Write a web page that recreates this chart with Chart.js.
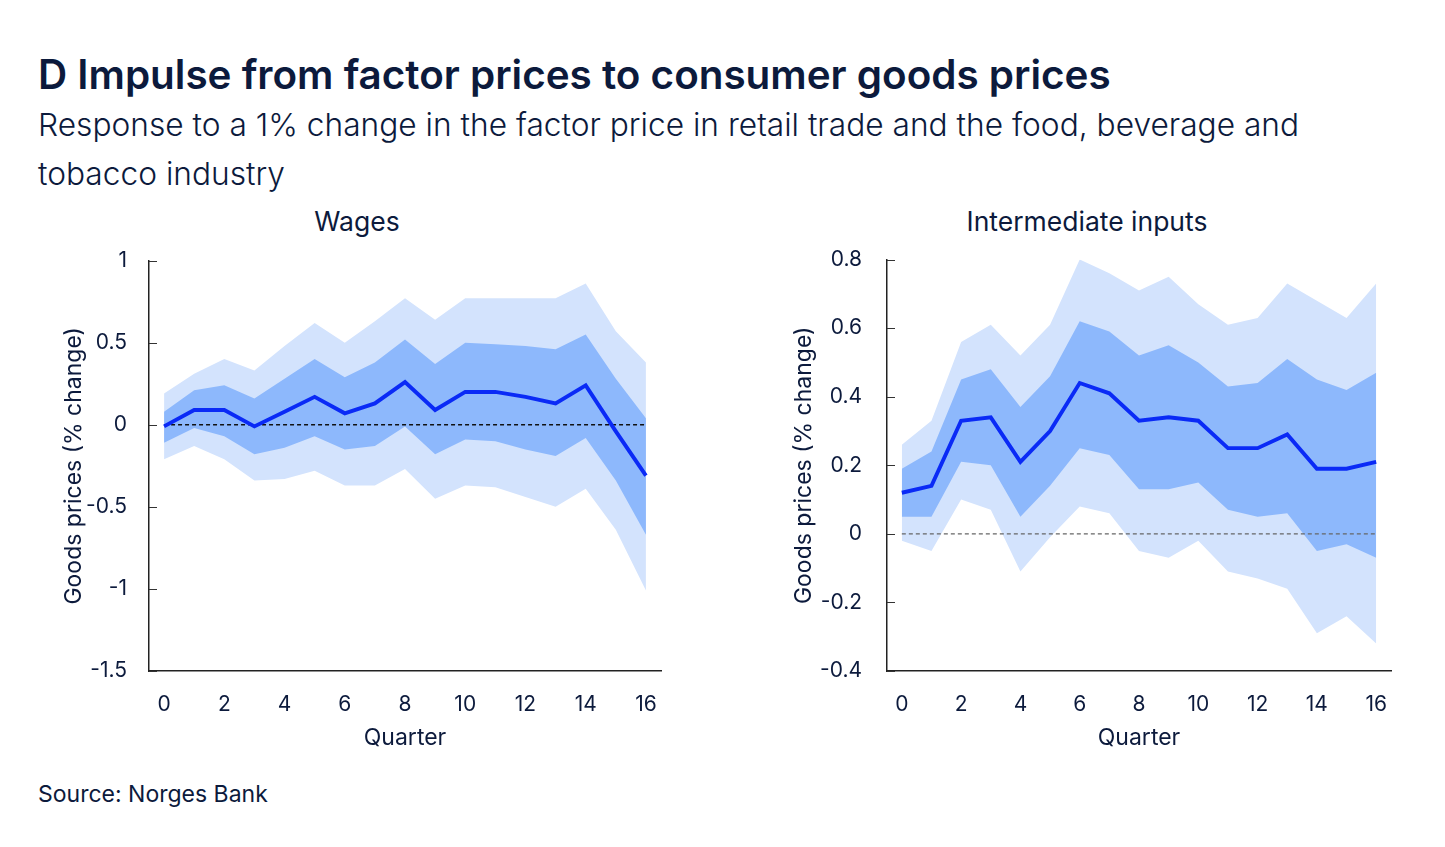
<!DOCTYPE html>
<html>
<head>
<meta charset="utf-8">
<script src="https://cdn.jsdelivr.net/npm/chart.js@4"></script>
<style>
  html, body { margin:0; padding:0; background:#ffffff; }
  body { width:1445px; height:847px; position:relative; overflow:hidden; font-family: Inter, "Noto Sans", sans-serif; color:#0c1a3c; }
  .title { position:absolute; left:38px; top:52px; font-size:40.4px; line-height:46px; font-weight:600; white-space:nowrap; }
  .subtitle { position:absolute; left:38px; top:100px; width:1275px; font-size:31.7px; line-height:49px; font-weight:300; }
  .panel { position:absolute; top:205px; font-size:26.5px; line-height:32px; transform:translateX(-50%); white-space:nowrap; }
  .source { position:absolute; left:38px; top:780px; font-size:23px; line-height:28px; }
  canvas { position:absolute; }
</style>
</head>
<body>
<div class="title">D Impulse from factor prices to consumer goods prices</div>
<div class="subtitle">Response to a 1% change in the factor price in retail trade and the food, beverage and tobacco industry</div>
<div class="panel" style="left:357px;">Wages</div>
<div class="panel" style="left:1087px;">Intermediate inputs</div>
<div class="source">Source: Norges Bank</div>
<div style="position:absolute;left:40px;top:226px;width:640px;height:544px;"><canvas id="c1" width="640" height="544"></canvas></div>
<div style="position:absolute;left:770px;top:222px;width:640px;height:548px;"><canvas id="c2" width="640" height="548"></canvas></div>
<script>
const quarters = [0,1,2,3,4,5,6,7,8,9,10,11,12,13,14,15,16];
const xTicks = [0,2,4,6,8,10,12,14,16];

// Wages panel
const wMedian   = [-0.01, 0.09, 0.09, -0.01, 0.08, 0.17, 0.07, 0.13, 0.26, 0.09, 0.20, 0.20, 0.17, 0.13, 0.24, -0.04, -0.31];
const wInnerUp  = [0.08, 0.21, 0.24, 0.16, 0.28, 0.40, 0.29, 0.38, 0.52, 0.37, 0.50, 0.49, 0.48, 0.46, 0.55, 0.28, 0.04];
const wInnerLow = [-0.11, -0.02, -0.07, -0.18, -0.14, -0.07, -0.15, -0.13, -0.01, -0.18, -0.09, -0.10, -0.15, -0.19, -0.08, -0.34, -0.67];
const wOuterUp  = [0.19, 0.31, 0.40, 0.33, 0.48, 0.62, 0.50, 0.63, 0.77, 0.64, 0.77, 0.77, 0.77, 0.77, 0.86, 0.57, 0.38];
const wOuterLow = [-0.21, -0.13, -0.21, -0.34, -0.33, -0.28, -0.37, -0.37, -0.27, -0.45, -0.37, -0.38, -0.44, -0.50, -0.39, -0.64, -1.01];
const wYTicks = [-1.5, -1, -0.5, 0, 0.5, 1];

// Intermediate inputs panel
const iMedian   = [0.12, 0.14, 0.33, 0.34, 0.21, 0.30, 0.44, 0.41, 0.33, 0.34, 0.33, 0.25, 0.25, 0.29, 0.19, 0.19, 0.21];
const iInnerUp  = [0.19, 0.24, 0.45, 0.48, 0.37, 0.46, 0.62, 0.59, 0.52, 0.55, 0.50, 0.43, 0.44, 0.51, 0.45, 0.42, 0.47];
const iInnerLow = [0.05, 0.05, 0.21, 0.20, 0.05, 0.14, 0.25, 0.23, 0.13, 0.13, 0.15, 0.07, 0.05, 0.06, -0.05, -0.03, -0.07];
const iOuterUp  = [0.26, 0.33, 0.56, 0.61, 0.52, 0.61, 0.80, 0.76, 0.71, 0.75, 0.67, 0.61, 0.63, 0.73, 0.68, 0.63, 0.73];
const iOuterLow = [-0.02, -0.05, 0.10, 0.07, -0.11, -0.01, 0.08, 0.06, -0.05, -0.07, -0.02, -0.11, -0.13, -0.16, -0.29, -0.24, -0.32];
const iYTicks = [-0.4, -0.2, 0, 0.2, 0.4, 0.6, 0.8];

const zeroLine = [0, 0];
const zeroX = [0, 16];

const TEXT = '#0c1a3c';
const LIGHT = '#d3e3fd';
const DARK = '#8db8fc';
const LINE = '#0a2af6';

const pts = arr => arr.map((v, i) => ({x: quarters[i], y: v}));

const innerTicks = {
  id: 'innerTicks',
  afterDatasetsDraw(chart) {
    const ys = chart.scales.y, ctx = chart.ctx, left = chart.chartArea.left;
    ctx.save();
    ctx.strokeStyle = '#333';
    ctx.lineWidth = 1;
    ys.ticks.forEach(t => {
      const py = Math.round(ys.getPixelForValue(t.value)) + 0.5;
      ctx.beginPath(); ctx.moveTo(left, py); ctx.lineTo(left + 8, py); ctx.stroke();
    });
    ctx.restore();
  }
};

function makeChart(id, med, inUp, inLow, outUp, outLow, yTicks, yPad, zeroColor, yWidth) {
  const ctx = document.getElementById(id);
  return new Chart(ctx, {
    type: 'line',
    data: {
      datasets: [
        { data: pts(outUp), fill: '+1', backgroundColor: LIGHT, borderWidth: 0, pointRadius: 0, order: 5 },
        { data: pts(outLow), fill: false, borderWidth: 0, pointRadius: 0, order: 5 },
        { data: pts(inUp), fill: '+1', backgroundColor: DARK, borderWidth: 0, pointRadius: 0, order: 3 },
        { data: pts(inLow), fill: false, borderWidth: 0, pointRadius: 0, order: 3 },
        { data: zeroX.map((x, i) => ({x: x, y: zeroLine[i]})), borderColor: zeroColor, borderWidth: 1.3, borderDash: [4, 3], pointRadius: 0, fill: false, order: 1 },
        { data: pts(med), borderColor: LINE, borderWidth: 3.9, pointRadius: 0, fill: false, tension: 0, order: 0, borderJoinStyle: 'miter' }
      ]
    },
    options: {
      responsive: false,
      animation: false,
      devicePixelRatio: 1,
      layout: { padding: { left: 20, right: 19, top: 5, bottom: 0 } },
      plugins: { legend: { display: false }, tooltip: { enabled: false }, title: { display: false } },
      scales: {
        x: {
          type: 'linear', min: -0.5, max: 16.5,
          afterBuildTicks: s => { s.ticks = xTicks.map(v => ({value: v})); },
          afterFit: s => { s.height = 99; },
          grid: { display: false, drawTicks: false },
          border: { display: true, color: '#222', width: 1.5 },
          ticks: { color: TEXT, font: { family: 'Inter', size: 21 }, padding: 21, maxRotation: 0, autoSkip: false },
          title: { display: true, text: 'Quarter', color: TEXT, font: { family: 'Inter', size: 23 }, padding: { top: 0, bottom: 18 } }
        },
        y: {
          type: 'linear', min: yTicks[0], max: yTicks[yTicks.length - 1],
          afterBuildTicks: s => { s.ticks = yTicks.map(v => ({value: v})); },
          afterFit: s => { s.width = yWidth; },
          grid: { display: false, drawTicks: false },
          border: { display: true, color: '#222', width: 1.5 },
          ticks: { color: TEXT, font: { family: 'Inter', size: 21 }, padding: yPad, callback: v => String(v) },
          title: { display: true, text: 'Goods prices (% change)', color: TEXT, font: { family: 'Inter', size: 23 }, padding: { top: 0, bottom: 0 } }
        }
      }
    },
    plugins: [innerTicks]
  });
}

makeChart('c1', wMedian, wInnerUp, wInnerLow, wOuterUp, wOuterLow, wYTicks, 22, '#111', 89);
makeChart('c2', iMedian, iInnerUp, iInnerLow, iOuterUp, iOuterLow, iYTicks, 25, '#666', 97);
</script>
</body>
</html>
